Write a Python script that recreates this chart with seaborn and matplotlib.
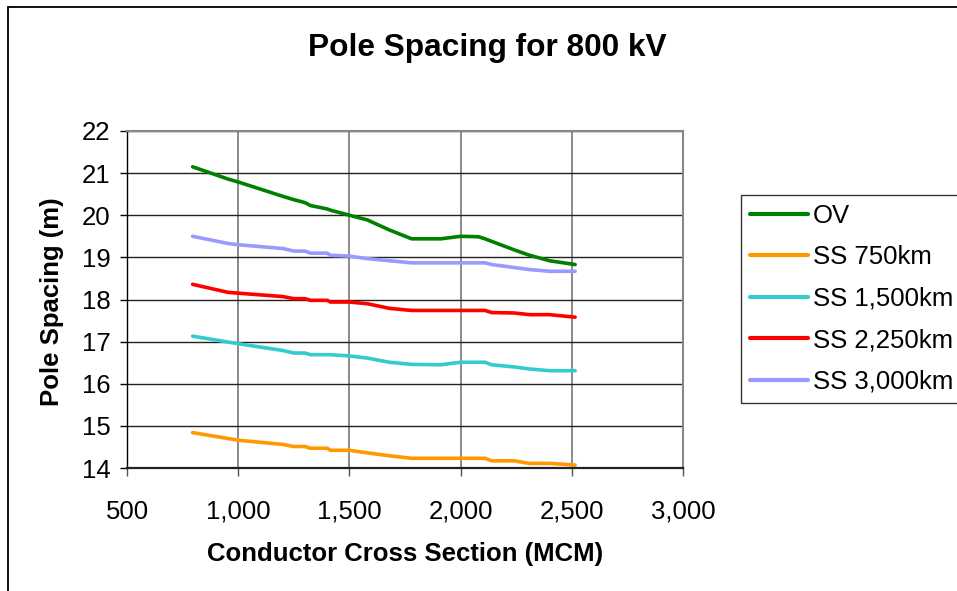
import matplotlib
matplotlib.use("Agg")
import matplotlib.pyplot as plt
import matplotlib.ticker as mticker
from matplotlib.patches import Rectangle
import pandas as pd
import seaborn as sns

# Conductor cross sections (MCM) and pole spacing (m) per design case
conductor_mcm = [795, 954, 1000, 1200, 1250, 1300, 1325, 1400, 1415, 1500, 1580,
                 1680, 1780, 1910, 2000, 2080, 2110, 2140, 2240, 2310, 2400, 2515]

spacing_ov = [21.15, 20.86, 20.79, 20.45, 20.37, 20.30, 20.23, 20.15, 20.12, 20.00, 19.89,
              19.65, 19.44, 19.44, 19.50, 19.49, 19.44, 19.38, 19.18, 19.05, 18.92, 18.83]
spacing_ss750 = [14.84, 14.70, 14.66, 14.56, 14.51, 14.51, 14.47, 14.47, 14.42, 14.42, 14.36,
                 14.29, 14.23, 14.23, 14.23, 14.23, 14.23, 14.17, 14.17, 14.11, 14.11, 14.07]
spacing_ss1500 = [17.13, 16.99, 16.95, 16.79, 16.73, 16.73, 16.69, 16.69, 16.69, 16.66, 16.61,
                  16.51, 16.46, 16.45, 16.51, 16.51, 16.51, 16.45, 16.40, 16.35, 16.31, 16.31]
spacing_ss2250 = [18.36, 18.17, 18.15, 18.07, 18.02, 18.02, 17.98, 17.98, 17.94, 17.94, 17.90,
                  17.79, 17.74, 17.74, 17.74, 17.74, 17.74, 17.69, 17.68, 17.64, 17.64, 17.58]
spacing_ss3000 = [19.50, 19.33, 19.30, 19.21, 19.15, 19.15, 19.10, 19.10, 19.05, 19.03, 18.97,
                  18.92, 18.87, 18.87, 18.87, 18.87, 18.87, 18.83, 18.76, 18.71, 18.67, 18.67]

series_names = ["OV", "SS 750km", "SS 1,500km", "SS 2,250km", "SS 3,000km"]
series_values = [spacing_ov, spacing_ss750, spacing_ss1500, spacing_ss2250, spacing_ss3000]
series_colors = ["#008000", "#FF9900", "#33CCCC", "#FF0000", "#9999FF"]

x_ticks = [500, 1000, 1500, 2000, 2500, 3000]
y_ticks = [14, 15, 16, 17, 18, 19, 20, 21, 22]

frames = [pd.DataFrame({"mcm": conductor_mcm, "spacing": vals, "case": name})
          for name, vals in zip(series_names, series_values)]
df = pd.concat(frames, ignore_index=True)

sns.set_style("white")
plt.rcParams["font.family"] = ["Liberation Sans", "DejaVu Sans"]
plt.rcParams.update({"text.color": "#000000", "axes.labelcolor": "#000000",
                     "xtick.color": "#000000", "ytick.color": "#000000"})

W, H = 957, 591
fig = plt.figure(figsize=(W / 100, H / 100), dpi=100)
ax = fig.add_axes([127 / W, 1 - 468 / H, (683 - 127) / W, (468 - 131) / H])

sns.lineplot(data=df, x="mcm", y="spacing", hue="case", hue_order=series_names,
             palette=dict(zip(series_names, series_colors)), linewidth=2.6,
             ax=ax, legend=True, sort=False)

ax.set_xlim(500, 3000)
ax.set_ylim(14, 22)
ax.set_xticks(x_ticks)
ax.set_yticks(y_ticks)
ax.xaxis.set_major_formatter(mticker.StrMethodFormatter("{x:,.0f}"))

ax.grid(True, axis="y", color="#222222", linewidth=1.0)
ax.grid(True, axis="x", color="#777777", linewidth=1.2)
ax.set_axisbelow(True)

for side in ("top", "right"):
    ax.spines[side].set_color("#888888")
    ax.spines[side].set_linewidth(1.5)
ax.spines["left"].set_color("#000000")
ax.spines["left"].set_linewidth(1.0)
ax.spines["bottom"].set_color("#222222")
ax.spines["bottom"].set_linewidth(1.6)

ax.tick_params(axis="x", direction="out", length=6, width=1, color="#555555",
               labelcolor="#000000", labelsize=18.5, pad=17, bottom=True)
ax.tick_params(axis="y", direction="out", length=5, width=1, color="#000000",
               labelcolor="#000000", labelsize=18.5, pad=7, left=True)

ax.set_xlabel("Conductor Cross Section (MCM)", fontsize=18.5, fontweight="bold",
              color="#000000")
ax.set_ylabel("Pole Spacing (m)", fontsize=18.5, fontweight="bold", color="#000000")
ax.xaxis.set_label_coords(405 / W, 1 - 554 / H, transform=fig.transFigure)
ax.yaxis.set_label_coords(52 / W, 1 - 302 / H, transform=fig.transFigure)
ax.xaxis.label.set_va("center")
ax.yaxis.label.set_va("center")

fig.text(487 / W, 1 - 48 / H, "Pole Spacing for 800 kV", fontsize=22.8,
         fontweight="bold", ha="center", va="center", color="#000000")

leg = ax.legend(loc="upper left", bbox_to_anchor=(741 / W, 1 - 195 / H),
                bbox_transform=fig.transFigure, borderaxespad=0, frameon=True,
                fancybox=False, edgecolor="#000000", fontsize=18.5,
                handlelength=2.25, handletextpad=0.2, labelspacing=0.68,
                borderpad=0.35, title=None)
leg.get_frame().set_linewidth(1.0)
for text in leg.get_texts():
    text.set_color("#000000")
for line in leg.get_lines():
    line.set_linewidth(3.0)

# chart frame (open to the right and bottom)
fig.add_artist(Rectangle((8 / W, -0.1), 1.2, 1 - 7 / H + 0.1,
                         transform=fig.transFigure, fill=False,
                         edgecolor="#000000", linewidth=1.3))

fig.savefig("out.png", dpi=100)
